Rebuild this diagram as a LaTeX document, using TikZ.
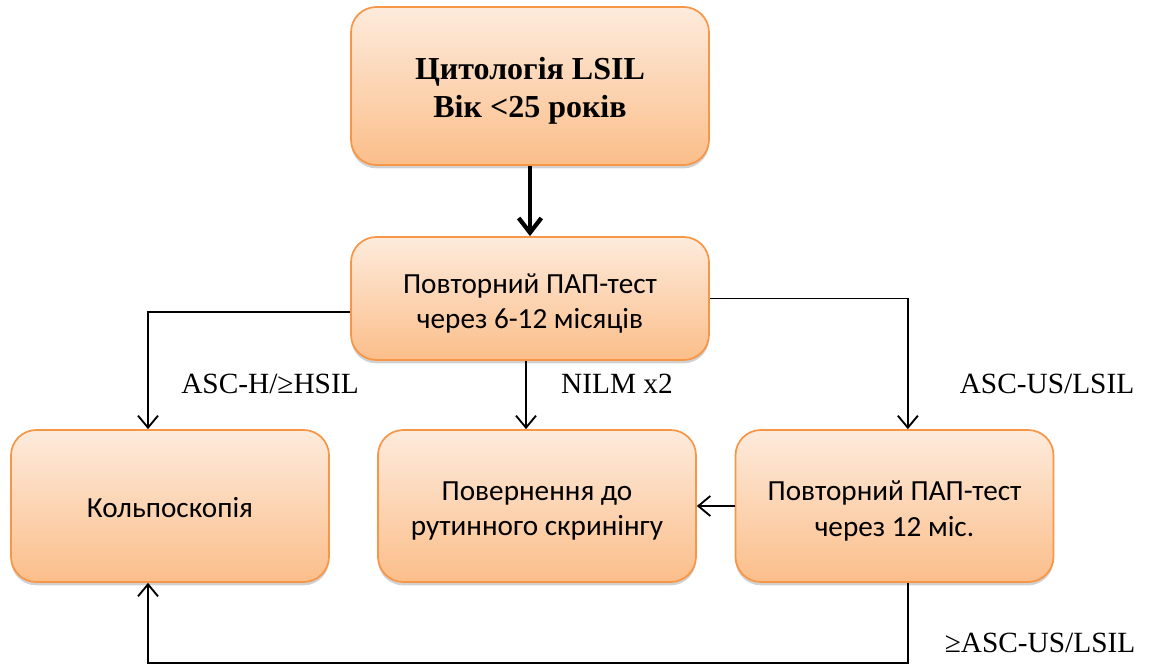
\documentclass[tikz,border=0pt]{standalone}
\usepackage{fontspec}
\setmainfont{Liberation Serif}
\newfontfamily\boxfont{Carlito}
\usetikzlibrary{arrows.meta,shadows,calc}
\definecolor{boxtop}{RGB}{253,235,220}
\definecolor{boxbot}{RGB}{251,190,138}
\definecolor{boxline}{RGB}{247,150,70}
% centred block of lines, set a little below the middle of its box
\newcommand{\boxtext}[2][7.5pt]{\parbox{230pt}{\centering\vspace*{#1}#2}}
\begin{document}
\begin{tikzpicture}[x=0.75pt,y=-0.75pt,
  flowbox/.style={rectangle, rounded corners=19pt, draw=boxline, line width=1.3pt,
    top color=boxtop, bottom color=boxbot, align=center,
    drop shadow={opacity=0.3, shadow xshift=0pt, shadow yshift=-2.5pt, fill=black!60}},
  plain/.style={flowbox, font=\boxfont\fontsize{21.9}{26.5}\selectfont},
  conn/.style={line width=1.4pt, -{Straight Barb[length=9pt,width=15pt,line width=1.4pt]}},
  lab/.style={font=\fontsize{22}{26}\selectfont, inner sep=0pt}]
\useasboundingbox (0,0) rectangle (1154,665);

\node[flowbox, minimum width=268.5pt, minimum height=118.5pt,
      font=\bfseries\fontsize{24}{28.5}\selectfont] (top) at (530,86)
  {\boxtext{Цитологія LSIL\\Вік <25 років}};
\node[plain, minimum width=268.5pt, minimum height=92.25pt] (mid) at (530,298.5)
  {\boxtext{Повторний ПАП-тест\\через 6-12 місяців}};
\node[plain, minimum width=238.5pt, minimum height=114pt] (kolpo) at (170,506)
  {\boxtext[3pt]{Кольпоскопія}};
\node[plain, minimum width=238.5pt, minimum height=114pt] (ret) at (537,506)
  {\boxtext{Повернення до\\рутинного скринінгу}};
\node[plain, minimum width=238.5pt, minimum height=114pt] (rep) at (894.5,506)
  {\boxtext{Повторний ПАП-тест\\через 12 міс.}};

\coordinate (kin) at ([xshift=-16.5pt]kolpo.north);
\coordinate (kup) at ([xshift=-16.5pt]kolpo.south);
\coordinate (rin) at ([xshift=10pt]rep.north);
\coordinate (rout) at ([xshift=10pt]rep.south);
\coordinate (low) at (0,663);

\draw[line width=3.2pt, -{Straight Barb[length=11pt,width=17pt,line width=3.2pt]}]
  (top.south) -- (mid.north);
\draw[conn] ([yshift=-10pt]mid.west) -| (kin);
\draw[conn] ([xshift=-3pt]mid.south) -- ([xshift=-3pt]mid.south |- ret.north);
\draw[conn] (mid.east) -| (rin);
\draw[conn] (rep.west) -- (ret.east);
\draw[conn] (rout) -- (rout |- low) -- (kup |- low) -- (kup);

\node[lab] (l1) at (270,384) {ASC-H/≥HSIL};
\node[lab] (l2) at (617,384) {NILM x2};
\node[lab] (l3) at (1047,384) {ASC-US/LSIL};
\node[lab] (l4) at (1040,643) {≥ASC-US/LSIL};
\end{tikzpicture}
\end{document}
